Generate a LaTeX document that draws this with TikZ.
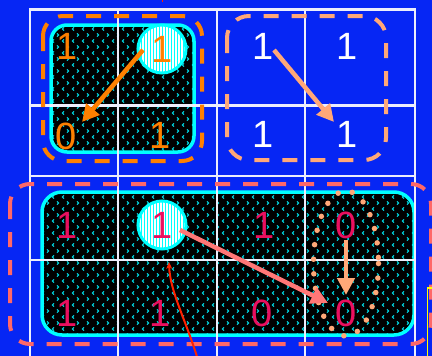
\documentclass[tikz,border=0pt]{standalone}
\usepackage{fontspec}
\setmainfont{Liberation Sans}
\usetikzlibrary{arrows.meta,patterns,calc}

% small cyan chevrons used as the fill texture of the grouped cells
\pgfdeclarepatternformonly{chevrons}{\pgfqpoint{-1pt}{-1pt}}{\pgfqpoint{11pt}{13pt}}{\pgfqpoint{10pt}{12pt}}{%
  \pgfsetlinewidth{1.1pt}%
  \pgfpathmoveto{\pgfqpoint{4pt}{4.6pt}}%
  \pgfpathlineto{\pgfqpoint{2.4pt}{3pt}}%
  \pgfpathlineto{\pgfqpoint{4pt}{1.4pt}}%
  \pgfpathmoveto{\pgfqpoint{7pt}{10.6pt}}%
  \pgfpathlineto{\pgfqpoint{8.6pt}{9pt}}%
  \pgfpathlineto{\pgfqpoint{7pt}{7.4pt}}%
  \pgfusepath{stroke}%
}

\definecolor{bgblue}{RGB}{6,38,244}
\definecolor{gridwhite}{RGB}{236,238,252}
\definecolor{kcyan}{RGB}{0,255,255}
\definecolor{patcyan}{RGB}{0,215,225}
\definecolor{korange}{RGB}{255,128,0}
\definecolor{kpeach}{RGB}{255,168,120}
\definecolor{ksalmon}{RGB}{255,104,104}
\definecolor{kpink}{RGB}{235,15,95}
\definecolor{kred}{RGB}{255,34,0}
\definecolor{kyellow}{RGB}{255,255,0}

\tikzset{
  num/.style={inner sep=0pt, font=\fontsize{38}{38}\selectfont},
  groupbox/.style={draw=kcyan, line width=3.5pt, preaction={fill=black},
    pattern=chevrons, pattern color=patcyan},
  gridline/.style={draw=gridwhite, line width=2.5pt},
  loopline/.style={line width=4pt, dash pattern=on 15pt off 13pt},
  marker/.style={circle, minimum size=48pt, inner sep=0pt, draw=kcyan,
    line width=3pt, preaction={fill=white}, pattern=vertical lines,
    pattern color=kcyan, font=\fontsize{38}{38}\selectfont},
  thickarrow/.style={line width=4.5pt, -{Triangle[length=17pt,width=17pt]}},
}

\begin{document}
\begin{tikzpicture}[x=1pt,y=-1pt]
  \useasboundingbox (0,0) rectangle (432,356);
  \clip (0,0) rectangle (432,356);
  \fill[bgblue] (0,0) rectangle (432,356);

  % shaded groups
  \path[groupbox, rounded corners=16pt] (51,25) rectangle (194,152);
  \path[groupbox, rounded corners=20pt] (42,192) rectangle (414,335);

  % map grid
  \foreach \gx in {30,118,217,305,415}
    \draw[gridline] (\gx,9.5) -- (\gx,358);
  \foreach \gy in {9.5,105.5,176,260}
    \draw[gridline] (28.75,\gy) -- (416.25,\gy);

  % dashed loops
  \draw[loopline, korange, rounded corners=20pt] (43,16) rectangle (202,161);
  \draw[loopline, kpeach, rounded corners=22pt] (227,16) rectangle (386,160);
  \draw[loopline, ksalmon, rounded corners=20pt] (10,184) rectangle (431,344);
  \draw[kpeach, line width=5.5pt, line cap=round, dash pattern=on 0pt off 14.6pt]
    (346,263.5) ellipse [x radius=32.5, y radius=72.5];

  % cell values, upper half
  \node[num, text=korange] (a1) at (67,46) {1};
  \node[marker, text=korange] (c1) at (162,49) {1};
  \node[num, text=korange] (b1) at (66,136) {0};
  \node[num, text=korange] (b2) at (160,135) {1};
  \node[num, text=white] (t1) at (263,46) {1};
  \node[num, text=white] (t2) at (347,46) {1};
  \node[num, text=white] (t3) at (263,134) {1};
  \node[num, text=white] (t4) at (347,134) {1};

  % cell values, lower half
  \node[num, text=kpink] (d1) at (67,225) {1};
  \node[marker, text=kpink] (c2) at (162,225) {1};
  \node[num, text=kpink] (d3) at (264,225) {1};
  \node[num, text=kpink] (d4) at (346,225) {0};
  \node[num, text=kpink] (d5) at (67,313) {1};
  \node[num, text=kpink] (d6) at (160,313) {1};
  \node[num, text=kpink] (d7) at (262,313) {0};
  \node[num, text=kpink] (d8) at (346,313) {0};

  % moves between cells
  \draw[thickarrow, korange] ($(c1)+(-19,1)$) -- ($(b1)+(16,-14)$);
  \draw[thickarrow, kpeach] ($(t1)+(11,4)$) -- ($(t4)+(-13,-12)$);
  \draw[thickarrow, ksalmon!90!white] ($(c2)+(18,5)$) -- ($(d8)+(-18,-10)$);
  \draw[thickarrow, kpeach] ($(d4)+(0,15)$) -- ($(d8)+(0,-18)$);

  % thin red pointer
  \coordinate (rtail) at (198,360);
  \draw[kred, line width=2pt, -{Stealth[length=7pt,width=6pt]}]
    (rtail) .. controls (186,320) and (170,292) .. ($(c2)+(7,37)$);
  \coordinate (rtop) at (162.5,-1);
  \draw[kred, line width=1pt] (rtop) -- ++(0,2.5);

  % frame at the lower right edge
  \draw[kyellow, line width=1.5pt] (427.5,288) rectangle (446,370);
\end{tikzpicture}
\end{document}
